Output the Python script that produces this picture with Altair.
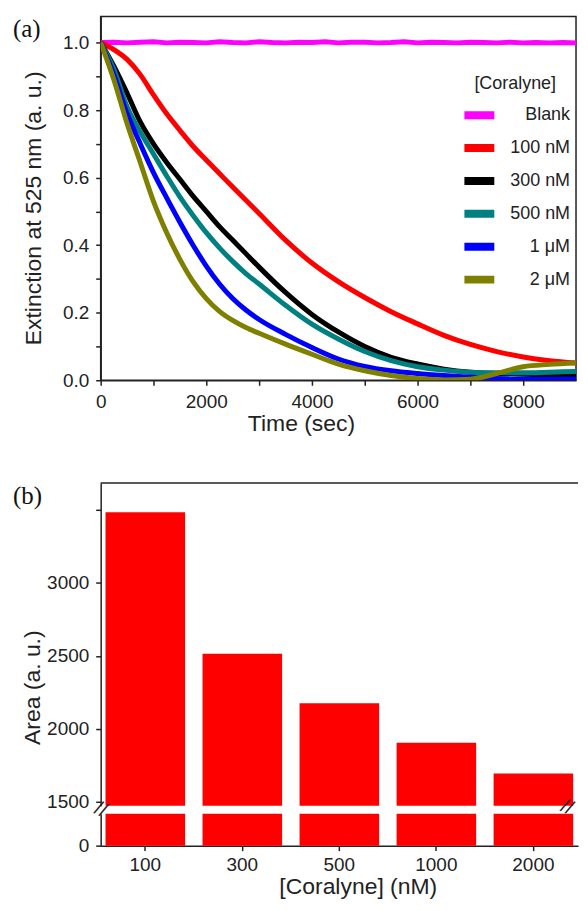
import altair as alt
import pandas as pd

# ---------------- panel (a): extinction at 525 nm vs time ----------------
time_s = [0, 250, 500, 750, 1000, 1250, 1500, 1750, 2000, 2250, 2500, 2750, 3000,
          3500, 4000, 4500, 5000, 5500, 6000, 6500, 7000, 7500, 8000, 8500, 9000]
ext_100nM = [1.0, 0.979, 0.950, 0.905, 0.845, 0.789, 0.740, 0.693, 0.652, 0.612, 0.572, 0.533, 0.494,
             0.415, 0.347, 0.292, 0.245, 0.203, 0.167, 0.133, 0.106, 0.085, 0.069, 0.058, 0.051]
ext_300nM = [1.0, 0.930, 0.850, 0.765, 0.700, 0.645, 0.595, 0.545, 0.500, 0.455, 0.415, 0.375, 0.335,
             0.260, 0.195, 0.143, 0.100, 0.068, 0.048, 0.033, 0.024, 0.020, 0.018, 0.016, 0.015]
ext_500nM = [1.0, 0.920, 0.810, 0.735, 0.670, 0.605, 0.543, 0.488, 0.437, 0.392, 0.352, 0.316, 0.285,
             0.222, 0.166, 0.122, 0.085, 0.058, 0.040, 0.030, 0.024, 0.022, 0.022, 0.024, 0.026]
ext_1uM = [1.0, 0.905, 0.790, 0.700, 0.615, 0.540, 0.468, 0.400, 0.338, 0.285, 0.242, 0.208, 0.180,
           0.136, 0.097, 0.063, 0.041, 0.028, 0.020, 0.014, 0.009, 0.005, 0.003, 0.003, 0.004]
ext_2uM = [1.0, 0.890, 0.760, 0.645, 0.530, 0.437, 0.358, 0.292, 0.242, 0.204, 0.177, 0.156, 0.139,
           0.107, 0.077, 0.048, 0.028, 0.014, 0.005, 0.001, 0.003, 0.020, 0.040, 0.047, 0.052]

blank_time = [0, 250, 500, 750, 1000, 1250, 1500, 1750, 2000, 2250, 2500, 2750, 3000, 3250,
              3500, 3750, 4000, 4250, 4500, 4750, 5000, 5250, 5500, 5750, 6000, 6250, 6500,
              6750, 7000, 7250, 7500, 7750, 8000, 8250, 8500, 8750, 9000]
blank_ext = [1.000, 1.001, 0.999, 1.001, 1.002, 0.999, 1.001, 1.000, 0.999, 1.002, 1.000, 0.999,
             1.002, 1.000, 0.999, 1.001, 1.000, 1.002, 0.999, 1.001, 1.001, 0.999, 1.000, 1.002,
             0.999, 1.001, 1.000, 0.999, 1.001, 1.000, 0.999, 1.001, 0.999, 1.000, 0.999, 1.000, 0.999]

series_labels = ["Blank", "100 nM", "300 nM", "500 nM", "1 μM", "2 μM"]
series_colors = ["#FF00FF", "#FF0000", "#000000", "#008080", "#0000FF", "#808000"]

# ---------------- panel (b): area vs coralyne concentration ----------------
conc_labels = ["100", "300", "500", "1000", "2000"]
area_values = [3485, 2515, 2175, 1905, 1695]

# ---------------- build tables ----------------
df_blank = pd.DataFrame({"time": blank_time, "ext": blank_ext, "series": "Blank"})
rows = []
for lab, vals in zip(series_labels[1:], [ext_100nM, ext_300nM, ext_500nM, ext_1uM, ext_2uM]):
    for t, v in zip(time_s, vals):
        rows.append({"time": t, "ext": v, "series": lab})
df_a = pd.DataFrame(rows)
df_b = pd.DataFrame({"conc": conc_labels, "area": area_values})
one_row = alt.Data(values=[{"k": 0}])

SANS = "Liberation Sans"
SERIF = "Liberation Serif"
INK = "#222222"

WA = 477         # panel (a) plot width
WB = 479         # panel (b) plot width
HA = 365
HB = 364
GAP = 103
TOP_H = 324      # upper segment of broken axis
LOW_Y0 = 332     # lower segment starts here

# ---------------- panel (a) ----------------
x_a = alt.X("time:Q",
            scale=alt.Scale(domain=[0, 9000], nice=False),
            axis=alt.Axis(values=[0, 1000, 2000, 3000, 4000, 5000, 6000, 7000, 8000],
                          format="d",
                          labelExpr="round(datum.value/1000) % 2 == 0 ? datum.label : ''",
                          labelFlush=False,
                          title="Time (sec)", titleX=201, titleY=43, titleBaseline="middle"))
y_a = alt.Y("ext:Q",
            scale=alt.Scale(domain=[0, 1.077], nice=False),
            axis=alt.Axis(values=[0, 0.1, 0.2, 0.3, 0.4, 0.5, 0.6, 0.7, 0.8, 0.9, 1.0],
                          labelExpr="round(datum.value*10) % 2 == 0 ? format(datum.value, '.1f') : ''",
                          labelFlush=False,
                          title="Extinction at 525 nm (a. u.)", titleX=-67, titleY=192,
                          titleBaseline="middle"))
color_a = alt.Color("series:N",
                    scale=alt.Scale(domain=series_labels, range=series_colors),
                    legend=alt.Legend(title="[Coralyne]", orient="none", legendX=361, legendY=58.5,
                                      offset=0, padding=0,
                                      direction="vertical", symbolType="stroke", symbolSize=900,
                                      symbolStrokeWidth=8, labelAlign="right", labelOffset=72,
                                      labelFontSize=18, labelFont=SANS, labelColor=INK,
                                      titleFontSize=18, titleFont=SANS, titleFontWeight="normal",
                                      titleColor=INK, titleAnchor="middle", titlePadding=6,
                                      clipHeight=33, rowPadding=0, labelLimit=200))

blank_line = alt.Chart(df_blank).mark_line(strokeWidth=5, clip=True).encode(
    x=x_a, y=y_a, color=color_a)
lines = alt.Chart(df_a).mark_line(strokeWidth=5, interpolate="monotone", clip=True).encode(
    x=x_a, y=y_a, color=color_a)

label_a = alt.Chart(one_row).mark_text(text="(a)", font=SERIF, fontSize=25, align="left",
                                        baseline="middle", color="#111").encode(
    x=alt.value(-88), y=alt.value(13))

# invisible page frame: fixes the drawing's horizontal extent to 572 px around panel (a)'s origin
page_frame = alt.Chart(one_row).mark_rect(opacity=0).encode(
    x=alt.value(-92), x2=alt.value(480), y=alt.value(-8), y2=alt.value(870))

chart_a = alt.layer(page_frame, blank_line, lines, label_a).properties(
    width=WA, height=HA, view=alt.ViewBackground(stroke=INK, strokeWidth=1.5))

# ---------------- panel (b) with broken y axis ----------------
x_bars = alt.X("conc:N", sort=conc_labels,
               scale=alt.Scale(paddingInner=0.18, paddingOuter=0.05),
               axis=alt.Axis(labelAngle=0, labelPadding=5, title="[Coralyne] (nM)",
                             titleX=258, titleY=41, titleBaseline="middle"))

bars_top = alt.Chart(df_b).mark_bar(color="#FF0000").encode(
    x=x_bars,
    y=alt.Y("area:Q",
            scale=alt.Scale(domain=[1473, 3686], range=[TOP_H, 0], clamp=True, zero=False, nice=False),
            axis=alt.Axis(values=[1500, 2000, 2500, 3000, 3500], format="d", orient="left",
                          labelExpr="datum.value == 3500 ? '' : datum.label", labelFlush=False,
                          title="Area (a. u.)", titleX=-68, titleY=205, titleBaseline="middle")),
    y2=alt.datum(1473),
)

bars_low = alt.Chart(df_b).mark_bar(color="#FF0000").encode(
    x=x_bars,
    y=alt.Y("area:Q",
            scale=alt.Scale(domain=[0, 300], range=[HB, LOW_Y0], clamp=True, nice=False),
            axis=alt.Axis(values=[0], format="d", orient="left", title=None, labelFlush=False)),
    y2=alt.datum(0),
)

top_border = alt.Chart(one_row).mark_rule(color=INK, strokeWidth=1.5).encode(
    x=alt.value(0), x2=alt.value(WB), y=alt.value(0))

break_left = alt.Chart(one_row).mark_text(text="//", font=SANS, fontSize=20, angle=25,
                                           align="center", baseline="middle", color=INK).encode(
    x=alt.value(0), y=alt.value((TOP_H + LOW_Y0) / 2))
break_right = alt.Chart(one_row).mark_text(text="//", font=SANS, fontSize=20, angle=25,
                                            align="right", baseline="middle", color=INK).encode(
    x=alt.value(WB - 6), y=alt.value((TOP_H + LOW_Y0) / 2))

label_b = alt.Chart(one_row).mark_text(text="(b)", font=SERIF, fontSize=25, align="left",
                                        baseline="middle", color="#111").encode(
    x=alt.value(-88), y=alt.value(13))

chart_b = alt.layer(bars_top, bars_low, top_border, break_left, break_right, label_b).resolve_scale(
    y="independent").properties(
    width=WB, height=HB, view=alt.ViewBackground(stroke="transparent"))

chart = alt.VConcatChart(vconcat=[chart_a, chart_b], spacing=GAP, bounds="flush").properties(
    padding={"left": 0, "top": -2, "right": 0, "bottom": 2},
).configure_axis(
    domainColor=INK, domainWidth=1.5, tickColor=INK, tickWidth=1.5, tickSize=5,
    labelColor=INK, labelFont=SANS, labelFontSize=19, labelPadding=7,
    titleColor=INK, titleFont=SANS, titleFontSize=23, titleFontWeight="normal", grid=False
)

chart.save("out.html", embed_options={"renderer": "svg", "actions": False})
